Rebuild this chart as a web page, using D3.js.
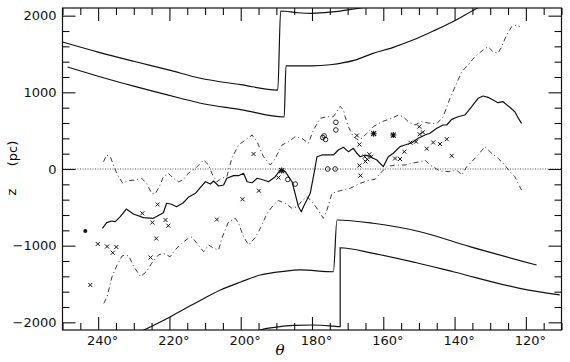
<!DOCTYPE html>
<html>
<head>
<meta charset="utf-8">
<script src="https://cdn.jsdelivr.net/npm/d3@7"></script>
<style>
  body { margin: 0; background: #fff; }
  .axis text { font-family: "DejaVu Sans", sans-serif; font-size: 13px; fill: #111; }
  .axis line { stroke: #111; stroke-width: 1.1; }
  .axis path { display: none; }
</style>
</head>
<body>
<div id="chart"></div>
<script>
// tick labels
var xMajor = [240, 220, 200, 180, 160, 140, 120];
var yMajor = [-2000, -1000, 0, 1000, 2000];

// mean z of the layer (solid line), [theta, z]
var meanLine = [
  [238.8,-773],[237.6,-700],[236.2,-678],[235.2,-687],[233.8,-622],[232.1,-522],[230.1,-587],[227.3,-635],
  [224.5,-643],[221.7,-570],[220.8,-447],[219.4,-460],[218.0,-492],[216.1,-440],[214.7,-369],[212.7,-317],
  [211.3,-239],[209.9,-166],[208.5,-196],[207.6,-157],[206.2,-222],[204.8,-209],[203.9,-121],[202.0,-87],
  [200.6,-87],[199.2,-56],[198.2,-166],[196.8,-179],[195.4,-121],[193.6,-143],[192.2,-166],[190.3,-100],
  [188.9,-13],[187.5,-35],[185.6,-166],[183.8,-492],[183.0,-557],[182.4,-492],[180.5,-317],[179.6,-100],
  [178.6,160],[177.2,183],[175.4,183],[174.0,183],[172.6,248],[171.2,283],[169.8,226],[168.4,270],
  [167.4,205],[166.5,160],[165.1,183],[163.7,160],[161.8,117],[160.0,30],[158.6,160],[157.2,205],
  [155.3,291],[153.9,313],[152.0,343],[150.2,400],[148.3,443],[146.9,466],[145.0,531],[143.2,574],
  [142.2,574],[140.8,648],[139.0,682],[137.1,704],[135.2,813],[133.4,922],[132.0,952],[130.6,935],
  [127.8,865],[126.4,878],[124.5,805],[123.1,747],[122.1,661],[121.2,595]
];

// upper and lower dispersion (dash-dot)
var upperLine = [
  [238.5,95],[237.6,183],[236.6,160],[235.7,52],[234.8,-56],[233.1,-187],[231.5,-153],[229.6,-143],
  [227.8,-121],[226.4,-187],[225.0,-317],[224.0,-326],[222.6,-209],[221.7,-100],[220.3,-56],[218.9,-121],
  [217.5,-166],[216.1,-143],[214.7,-56],[212.7,9],[210.4,117],[209.0,52],[208.1,-56],[206.7,-166],
  [205.3,-121],[203.9,-100],[202.5,140],[200.6,313],[198.7,378],[196.8,443],[195.4,356],[193.6,160],
  [191.7,52],[190.3,140],[188.4,313],[186.6,356],[184.7,421],[182.8,400],[181.0,335],[179.6,509],
  [177.7,661],[175.8,682],[174.0,682],[172.1,818],[171.2,770],[170.7,682],[169.8,552],[168.4,421],
  [167.0,378],[166.0,400],[164.6,466],[162.8,552],[160.4,617],[157.6,661],[155.8,704],[154.4,682],
  [153.0,617],[151.1,574],[149.2,617],[147.4,600],[145.0,590],[143.2,682],[141.3,922],[139.4,1118],
  [138.0,1269],[136.2,1356],[134.3,1465],[132.0,1552],[130.6,1595],[129.2,1530],[127.8,1509],[126.8,1595],
  [125.4,1748],[124.0,1856],[122.6,1878],[121.7,1856]
];
var lowerLine = [
  [238.4,-1752],[237.5,-1666],[236.1,-1405],[234.7,-1252],[233.3,-1135],[232.4,-1122],[231.4,-1135],[230.0,-1274],
  [228.1,-1405],[226.3,-1330],[225.0,-1230],[223.1,-1122],[221.7,-1100],[219.8,-1144],[218.4,-1056],[216.6,-969],
  [214.7,-904],[213.7,-887],[211.8,-998],[210.4,-1079],[209.0,-991],[207.6,-1034],[206.2,-1056],[205.3,-904],
  [203.4,-687],[201.5,-643],[200.6,-708],[199.2,-883],[197.8,-991],[195.9,-893],[194.5,-773],[192.6,-578],
  [190.8,-470],[189.5,-411],[187.5,-447],[185.6,-513],[184.2,-492],[182.8,-417],[181.4,-361],[179.6,-447],
  [177.7,-578],[176.8,-643],[175.8,-535],[174.4,-317],[172.1,-283],[169.3,-252],[166.5,-187],[163.7,-143],
  [162.3,-134],[160.4,-35],[159.0,30],[156.7,52],[153.9,52],[152.0,74],[149.7,95],[148.3,117],
  [146.9,52],[144.1,-26],[141.3,-35],[139.4,-13],[138.0,-78],[136.6,30],[135.2,95],[133.4,183],
  [131.5,291],[129.6,205],[127.8,140],[125.9,52],[124.5,-35],[123.1,-100],[121.7,-231],[121.2,-274]
];

// warp envelopes (solid)
var upperOuter = [[250,1656],[240,1525],[230,1405],[220,1290],[211.6,1187],[200,1100],[189.6,1030],
  [188.8,2061],[184,2038],[180,2031],[175,2045],[170,2075],[165,2110],[160,2150]];
var upperInner = [[248.6,1330],[240,1210],[230,1080],[217.2,926],[211.6,861],[200,775],[187.8,678],
  [187.3,1347],[180,1345],[174.9,1360],[168,1420],[162.9,1508],[157,1590],[151.7,1682],[146,1800],
  [140.5,1921],[133.7,2096],[130,2180]];
var lowerInner = [[230,-2165],[219.7,-1926],[212.7,-1748],[205.7,-1578],[200,-1474],[194.5,-1383],[188,-1335],
  [183.3,-1317],[174,-1340],[173,-665],[162.8,-708],[149.7,-818],[135.7,-1013],[117,-1252]];
var lowerOuter = [[197,-2160],[194.5,-2100],[190,-2062],[185,-2040],[180,-2035],[175,-2045],[172.1,-2057],
  [172.1,-1027],[162.8,-1100],[151,-1220],[140.4,-1340],[121.7,-1556],[110.5,-1643]];

// individual objects
var crosses = [
  [242.2,-1513],[240.1,-978],[237.5,-1011],[235.9,-1092],[234.9,-1017],[227.6,-578],[225.3,-1154],[224.8,-698],
  [223.7,-906],[223.3,-463],[221.1,-665],[220.3,-740],[206.7,-659],[199.5,-395],[196.4,196],[194.9,-283],
  [189.4,-111],[167.4,437],[166.7,320],[166.7,46],[166.4,-87],[165.2,160],[164.5,127],[163.9,192],
  [163.4,160],[165.0,98],[156.7,137],[155.3,130],[154.1,226],[152.4,343],[150.8,356],[149.9,552],
  [149.8,453],[148.9,479],[147.8,265],[146.0,346],[144.1,326],[142.2,389],[140.8,172]
];
var stars = [[188.5,-20],[162.7,460],[157.2,443]];
var circles = [[186.8,-137],[184.7,-196],[177.0,411],[176.2,385],[176.6,432],[173.3,609],[173.3,509],[175.6,0],[173.5,0]];
var dots = [[243.6,-809]];

var margin = {top: 8, right: 8.5, bottom: 32, left: 62.5},
    width = 570 - margin.left - margin.right,
    height = 362 - margin.top - margin.bottom;

var svg = d3.select("#chart").append("svg")
    .attr("width", 570)
    .attr("height", 362)
    .append("g")
    .attr("transform", "translate(" + margin.left + "," + margin.top + ")");

var x = d3.scaleLinear().domain([250, 110]).range([0, width]);
var y = d3.scaleLinear().domain([-2100, 2100]).range([height, 0]);

svg.append("clipPath").attr("id", "clip")
  .append("rect").attr("width", width).attr("height", height);

// minor + major ticks, inward, on all four sides
var xMinor = d3.range(110, 251, 5).filter(function(d) { return xMajor.indexOf(d) < 0; });
var yMinor = d3.range(-2000, 2001, 200).filter(function(d) { return yMajor.indexOf(d) < 0; });

svg.append("g").attr("class", "axis").attr("transform", "translate(0," + height + ")")
    .call(d3.axisBottom(x).tickValues(xMinor).tickSize(-7).tickFormat(""));
svg.append("g").attr("class", "axis").attr("transform", "translate(0," + height + ")")
    .call(d3.axisBottom(x).tickValues(xMajor).tickSize(-13).tickPadding(6)
      .tickFormat(function(d) { return d + "°"; }))
    .selectAll("text").attr("dx", 4);
svg.append("g").attr("class", "axis")
    .call(d3.axisTop(x).tickValues(xMinor).tickSize(-7).tickFormat(""));
svg.append("g").attr("class", "axis")
    .call(d3.axisTop(x).tickValues(xMajor).tickSize(-13).tickFormat(""));

svg.append("g").attr("class", "axis")
    .call(d3.axisLeft(y).tickValues(yMinor).tickSize(-7).tickFormat(""));
svg.append("g").attr("class", "axis")
    .call(d3.axisLeft(y).tickValues(yMajor).tickSize(-13).tickPadding(6).tickFormat(d3.format("d")));
svg.append("g").attr("class", "axis").attr("transform", "translate(" + width + ",0)")
    .call(d3.axisRight(y).tickValues(yMinor).tickSize(-7).tickFormat(""));
svg.append("g").attr("class", "axis").attr("transform", "translate(" + width + ",0)")
    .call(d3.axisRight(y).tickValues(yMajor).tickSize(-13).tickFormat(""));

svg.append("rect")
    .attr("width", width).attr("height", height)
    .attr("fill", "none").attr("stroke", "#111").attr("stroke-width", 1.2);

// zero line
svg.append("line")
    .attr("x1", 0).attr("x2", width)
    .attr("y1", y(0)).attr("y2", y(0))
    .attr("stroke", "#222").attr("stroke-width", 0.8)
    .attr("stroke-dasharray", "1,1.5");

var line = d3.line()
    .x(function(d) { return x(d[0]); })
    .y(function(d) { return y(d[1]); });

var smooth = d3.line()
    .curve(d3.curveMonotoneX)
    .x(function(d) { return x(d[0]); })
    .y(function(d) { return y(d[1]); });

var plot = svg.append("g").attr("clip-path", "url(#clip)");

[upperOuter, upperInner, lowerInner, lowerOuter].forEach(function(c) {
  plot.append("path").datum(c)
    .attr("d", smooth)
    .attr("fill", "none").attr("stroke", "#111").attr("stroke-width", 1.2);
});

[upperLine, lowerLine].forEach(function(c) {
  plot.append("path").datum(c)
    .attr("d", line)
    .attr("fill", "none").attr("stroke", "#222").attr("stroke-width", 0.9)
    .attr("stroke-dasharray", "5,3,1,3");
});

plot.append("path").datum(meanLine)
    .attr("d", line)
    .attr("fill", "none").attr("stroke", "#111").attr("stroke-width", 1.2)
    .attr("stroke-linejoin", "round");

// markers
plot.selectAll(".cross").data(crosses).enter().append("path")
    .attr("class", "cross")
    .attr("transform", function(d) { return "translate(" + x(d[0]) + "," + y(d[1]) + ")"; })
    .attr("d", "M-2,-2L2,2M-2,2L2,-2")
    .attr("stroke", "#111").attr("stroke-width", 1);

plot.selectAll(".star").data(stars).enter().append("path")
    .attr("class", "star")
    .attr("transform", function(d) { return "translate(" + x(d[0]) + "," + y(d[1]) + ")"; })
    .attr("d", "M-2.5,-2.5L2.5,2.5M-2.5,2.5L2.5,-2.5M0,-3L0,3M-3,0L3,0")
    .attr("stroke", "#111").attr("stroke-width", 1.1);

plot.selectAll(".circ").data(circles).enter().append("circle")
    .attr("class", "circ")
    .attr("cx", function(d) { return x(d[0]); })
    .attr("cy", function(d) { return y(d[1]); })
    .attr("r", 2.3)
    .attr("fill", "none").attr("stroke", "#111").attr("stroke-width", 0.9);

plot.selectAll(".dot").data(dots).enter().append("circle")
    .attr("class", "dot")
    .attr("cx", function(d) { return x(d[0]); })
    .attr("cy", function(d) { return y(d[1]); })
    .attr("r", 2).attr("fill", "#111");

// axis labels
svg.append("text")
    .attr("transform", "translate(" + (16 - margin.left) + "," + (192 - margin.top) + ") rotate(-90)")
    .attr("text-anchor", "middle")
    .style("font-family", "DejaVu Sans").style("font-size", "13px")
    .text("z");
svg.append("text")
    .attr("transform", "translate(" + (16.5 - margin.left) + "," + (153.5 - margin.top) + ") rotate(-90)")
    .attr("text-anchor", "middle")
    .style("font-family", "DejaVu Sans").style("font-size", "13px")
    .text("(pc)");

svg.append("text")
    .attr("x", 280 - margin.left)
    .attr("y", 355 - margin.top)
    .attr("text-anchor", "middle")
    .style("font-family", "DejaVu Serif").style("font-style", "italic").style("font-size", "15px")
    .text("θ");
</script>
</body>
</html>
